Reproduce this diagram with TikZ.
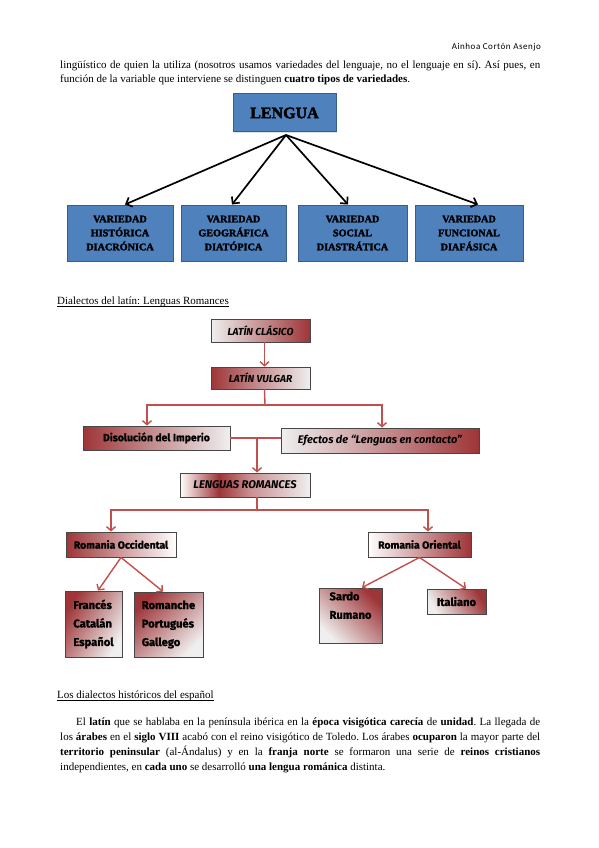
\documentclass[tikz,border=0pt]{standalone}
\usepackage{fontspec}
\setmainfont{Liberation Serif}
\newfontfamily\hdrfont[LetterSpace=6]{Carlito}
\newfontface\heavyfont[FakeBold=2.4]{Liberation Serif Bold}
\newfontfamily\handfont[BoldFeatures={FakeBold=1.3}]{Fira Sans}
\usetikzlibrary{arrows.meta,shadows}
\definecolor{bluefill}{HTML}{4F81BD}
\definecolor{bluedraw}{HTML}{385D8A}
\definecolor{redline}{HTML}{C0504D}
\definecolor{redbox}{HTML}{9E3538}
\definecolor{boxlight}{HTML}{EFEFEF}
\definecolor{boxdraw}{HTML}{474747}
\pgfdeclarehorizontalshading{lrshade}{100bp}{color(0bp)=(white); color(25bp)=(white); color(40bp)=(redbox); color(52bp)=(redbox!55!white); color(75bp)=(boxlight); color(100bp)=(boxlight)}
\begin{document}
\frenchspacing
\begin{tikzpicture}[x=1pt,y=-1pt,
  txt/.style={inner sep=0pt, anchor=base west, font=\fontsize{11}{13}\selectfont},
  uline/.style={line width=0.5pt},
  bluebox/.style={draw=bluedraw, line width=1pt, fill=bluefill, inner sep=1pt, align=center,
    font=\heavyfont\fontsize{10.2}{14}\selectfont, drop shadow={opacity=0.25,shadow xshift=1pt,shadow yshift=-1pt}},
  blackarrow/.style={line width=1.7pt, -{Straight Barb[length=5pt,width=10pt]}},
  handbox/.style={draw=boxdraw, line width=0.9pt, inner sep=1pt, align=center,
    font=\handfont\bfseries\fontsize{10.4}{13}\selectfont, drop shadow={opacity=0.3,shadow xshift=1.2pt,shadow yshift=-1.2pt}},
  listfont/.style={font=\handfont\bfseries\fontsize{11.2}{18.5}\selectfont},
  redline/.style={draw=redline, line width=1.4pt},
  redarrow/.style={draw=redline, line width=1.4pt, -{Straight Barb[length=4pt,width=9pt]}}
]
\useasboundingbox (0,0) rectangle (599,848);
\fill[white] (0,0) rectangle (599,848);

% header
\node[inner sep=0pt, anchor=base east, font=\hdrfont\fontsize{9}{11}\selectfont] (hdr) at (541,50) {Ainhoa Cortón Asenjo};

% top paragraph
\node[txt] (t1) at (60,68.5) {\makebox[480pt][s]{lingüístico de quien la utiliza (nosotros usamos variedades del lenguaje, no el lenguaje en sí). Así pues, en}};
\node[txt] (t2) at (60,82.5) {función de la variable que interviene se distinguen \textbf{cuatro tipos de variedades}.};

% diagram 1
\node[bluebox, minimum width=103pt, minimum height=38pt, font=\heavyfont\fontsize{16}{18}\selectfont] (lengua) at (284.5,113) {LENGUA};
\node[bluebox, minimum width=106pt, minimum height=56pt] (v1) at (120,233) {VARIEDAD\\HISTÓRICA\\DIACRÓNICA};
\node[bluebox, minimum width=105pt, minimum height=56pt] (v2) at (233.5,233) {VARIEDAD\\GEOGRÁFICA\\DIATÓPICA};
\node[bluebox, minimum width=109pt, minimum height=56pt] (v3) at (352.5,233) {VARIEDAD\\SOCIAL\\DIASTRÁTICA};
\node[bluebox, minimum width=108pt, minimum height=56pt] (v4) at (469,233) {VARIEDAD\\FUNCIONAL\\DIAFÁSICA};
\coordinate (hub) at (286,135);
\draw[blackarrow] (hub) -- ([xshift=5pt]v1.north);
\draw[blackarrow] (hub) -- ([xshift=-1.5pt]v2.north);
\draw[blackarrow] (hub) -- ([xshift=-4.5pt]v3.north);
\draw[blackarrow] (hub) -- ([xshift=9pt]v4.north);

% section title
\node[txt] (s1) at (57,304) {Dialectos del latín: Lenguas Romances};
\draw[uline] ([yshift=-1.8pt]s1.base west) -- ([yshift=-1.8pt]s1.base east);

% diagram 2
\node[handbox, minimum width=99pt, minimum height=23pt, left color=boxlight, right color=redbox, font=\handfont\bfseries\itshape\fontsize{10.2}{13}\selectfont] (lc) at (260.5,330.5) {LATÍN CLÁSICO};
\node[handbox, minimum width=99pt, minimum height=22pt, left color=redbox, right color=boxlight, font=\handfont\bfseries\itshape\fontsize{10.2}{13}\selectfont] (lv) at (260.5,378) {LATÍN VULGAR};
\draw[redarrow] ([xshift=4pt]lc.south) -- ([xshift=4pt]lv.north);

\node[handbox, minimum width=147pt, minimum height=24pt, left color=redbox, right color=boxlight] (dis) at (156.5,438) {Disolución del Imperio};
\node[handbox, minimum width=198pt, minimum height=25pt, left color=boxlight, right color=redbox, font=\handfont\bfseries\itshape\fontsize{11}{13}\selectfont] (efe) at (380,440.5) {Efectos de “Lenguas en contacto”};
\coordinate (j1) at (265,405);
\draw[redline] ([xshift=4pt]lv.south) -- (j1);
\draw[redarrow] (j1) -| ([xshift=-9.5pt]dis.north);
\draw[redarrow] (j1) -| ([xshift=2pt]efe.north);

\node[handbox, minimum width=130pt, minimum height=24pt, shading=lrshade, font=\handfont\bfseries\itshape\fontsize{11.2}{13}\selectfont] (lr) at (245,485) {LENGUAS ROMANCES};
\draw[redline] (dis.east) -- (dis.east -| efe.west);
\coordinate (j2) at (257,438);
\draw[redarrow] (j2) -- (j2 |- lr.north);

\node[handbox, minimum width=110pt, minimum height=25pt, left color=redbox, right color=white] (occ) at (121,544.5) {Romania Occidental};
\node[handbox, minimum width=103pt, minimum height=25pt, left color=white, right color=redbox] (ori) at (419.5,544.5) {Romania Oriental};
\coordinate (j3) at (257,510);
\draw[redline] ([xshift=12pt]lr.south) -- (j3);
\draw[redarrow] (j3) -| ([xshift=-10pt]occ.north);
\draw[redarrow] (j3) -| ([xshift=8.5pt]ori.north);

\node[handbox, listfont, minimum width=57pt, minimum height=66pt, left color=redbox, right color=boxlight, shading angle=60, align=left] (fr) at (93.5,624) {Francés\\Catalán\\Español};
\node[handbox, listfont, minimum width=69pt, minimum height=65pt, top color=redbox, bottom color=boxlight, shading angle=45, align=left] (rm) at (168.5,624.5) {Romanche\\Portugués\\Gallego};
\node[handbox, listfont, minimum width=63pt, minimum height=55pt, top color=redbox, bottom color=boxlight, shading angle=-45, align=left] (sd) at (350.5,615.5) {Sardo\\Rumano\\[2pt]};
\node[handbox, listfont, minimum width=59pt, minimum height=25pt, top color=redbox, bottom color=boxlight, shading angle=-60] (it) at (456.5,601.5) {Italiano};
\draw[redarrow] (occ.south) -- ([xshift=4.5pt]fr.north);
\draw[redarrow] (occ.south) -- ([xshift=-5.5pt]rm.north);
\draw[redarrow] (ori.south) -- ([xshift=11.5pt]sd.north);
\draw[redarrow] (ori.south) -- ([xshift=9.5pt]it.north);

% section title 2
\node[txt] (s2) at (57,698) {Los dialectos históricos del español};
\draw[uline] ([yshift=-1.8pt]s2.base west) -- ([yshift=-1.8pt]s2.base east);

% paragraph 2
\node[txt] (p1) at (76,725.5) {\makebox[464pt][s]{El \textbf{latín} que se hablaba en la península ibérica en la \textbf{época visigótica carecía} de \textbf{unidad}. La llegada de}};
\node[txt] (p2) at (60,740.5) {\makebox[480pt][s]{los \textbf{árabes} en el \textbf{siglo VIII} acabó con el reino visigótico de Toledo. Los árabes \textbf{ocuparon} la mayor parte del}};
\node[txt] (p3) at (60,755.5) {\makebox[480pt][s]{\textbf{territorio peninsular} (al-Ándalus) y en la \textbf{franja norte} se formaron una serie de \textbf{reinos cristianos}}};
\node[txt] (p4) at (60,770.5) {independientes, en \textbf{cada uno} se desarrolló \textbf{una lengua románica} distinta.};
\end{tikzpicture}
\end{document}
